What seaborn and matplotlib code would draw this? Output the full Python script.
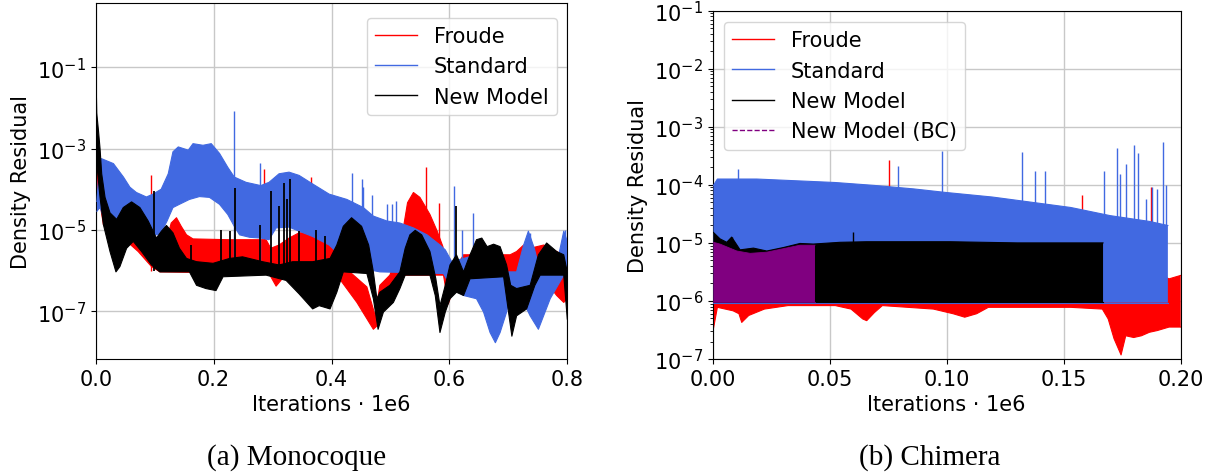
import numpy as np
import matplotlib
matplotlib.use("Agg")
import matplotlib.pyplot as plt
import seaborn as sns
from matplotlib.lines import Line2D
from matplotlib.ticker import NullLocator

# x: iterations in units of 1e6, y: log10(density residual)

# ---------------- (a) Monocoque ----------------
mono_std_up_x = [0.002, 0.007, 0.01, 0.03, 0.047, 0.058, 0.069, 0.086, 0.097, 0.111, 0.123, 0.131, 0.14,
                 0.157, 0.165, 0.182, 0.196, 0.21, 0.224, 0.235, 0.255, 0.28, 0.294, 0.311, 0.328, 0.345,
                 0.368, 0.396, 0.426, 0.454, 0.471, 0.494, 0.516, 0.539, 0.562, 0.584, 0.593, 0.604, 0.624,
                 0.646, 0.68, 0.714, 0.726, 0.734, 0.744, 0.754, 0.782, 0.794, 0.8]
mono_std_up_y = [-4.3, -3.25, -3.25, -3.37, -3.7, -3.95, -4.08, -4.19, -4.12, -4.0, -3.62, -3.08, -2.96,
                 -3.04, -2.88, -2.92, -2.88, -3.12, -3.46, -3.7, -3.83, -3.91, -3.83, -3.62, -3.58, -3.66,
                 -3.87, -4.12, -4.25, -4.45, -4.66, -4.78, -4.83, -4.95, -5.12, -5.37, -5.49, -5.78, -5.70,
                 -5.61, -6.03, -6.03, -5.37, -5.03, -5.45, -6.03, -5.86, -5.03, -5.28]
mono_std_lo_x = [0.002, 0.007, 0.019, 0.06, 0.109, 0.121, 0.131, 0.142, 0.159, 0.176, 0.193, 0.21, 0.224,
                 0.235, 0.244, 0.261, 0.28, 0.294, 0.306, 0.328, 0.345, 0.368, 0.396, 0.426, 0.454, 0.482,
                 0.59, 0.601, 0.624, 0.646, 0.658, 0.669, 0.678, 0.686, 0.697, 0.706, 0.723, 0.737, 0.751,
                 0.771, 0.794, 0.8]
mono_std_lo_y = [-4.54, -4.45, -4.87, -5.1, -5.12, -4.78, -4.45, -4.37, -4.25, -4.18, -4.20, -4.37, -4.62,
                 -4.91, -5.12, -5.18, -5.20, -5.24, -4.95, -4.93, -5.03, -5.16, -5.37, -5.78, -5.95, -6.03,
                 -6.07, -6.36, -6.61, -6.69, -7.02, -7.52, -7.77, -7.52, -7.02, -6.36, -6.69, -7.11, -7.44,
                 -6.69, -6.11, -6.03]

mono_fr_up_x = [0.002, 0.013, 0.03, 0.058, 0.086, 0.12, 0.128, 0.137, 0.145, 0.154, 0.165, 0.227, 0.289,
                0.297, 0.311, 0.328, 0.345, 0.368, 0.3975, 0.409, 0.431, 0.46, 0.474, 0.482, 0.499, 0.514,
                0.521, 0.529, 0.539, 0.55, 0.567, 0.579, 0.589, 0.596, 0.607, 0.624, 0.703, 0.714, 0.726,
                0.737, 0.76, 0.782, 0.8]
mono_fr_up_y = [-3.37, -4.2, -4.62, -4.9, -5.1, -5.28, -4.83, -4.70, -4.91, -5.12, -5.22, -5.24, -5.24,
                -5.45, -5.37, -5.20, -5.07, -5.07, -5.24, -5.45, -6.03, -6.4, -7.1, -6.36, -6.11, -5.53,
                -5.03, -4.33, -4.08, -4.20, -4.62, -5.02, -5.41, -6.20, -6.03, -5.61, -5.61, -5.53, -5.37,
                -5.45, -5.37, -5.53, -5.70]
mono_fr_lo_x = [0.002, 0.013, 0.03, 0.047, 0.058, 0.072, 0.086, 0.0946, 0.109, 0.294, 0.306, 0.314, 0.323,
                0.396, 0.409, 0.443, 0.471, 0.477, 0.488, 0.505, 0.516, 0.59, 0.598, 0.607, 0.624, 0.68,
                0.714, 0.726, 0.737, 0.76, 0.782, 0.794, 0.8]
mono_fr_lo_y = [-3.87, -4.87, -5.20, -5.37, -5.35, -5.53, -5.76, -5.90, -6.03, -6.07, -6.38, -6.24, -6.07,
                -6.03, -6.11, -6.78, -7.44, -7.36, -6.86, -6.44, -6.11, -6.11, -6.82, -6.44, -6.28, -6.20,
                -6.69, -6.86, -6.36, -6.20, -6.61, -6.78, -6.69]

mono_new_up_x = [0.0, 0.0005, 0.0017, 0.0045, 0.0073, 0.0101, 0.0158, 0.0242, 0.0355, 0.0467, 0.0608,
                 0.0749, 0.089, 0.103, 0.1115, 0.12, 0.131, 0.142, 0.154, 0.171, 0.199, 0.227, 0.249,
                 0.283, 0.311, 0.334, 0.368, 0.3975, 0.409, 0.42, 0.434, 0.451, 0.463, 0.471, 0.477,
                 0.482, 0.499, 0.516, 0.525, 0.533, 0.542, 0.553, 0.567, 0.577, 0.584, 0.593, 0.601,
                 0.612, 0.624, 0.635, 0.646, 0.655, 0.664, 0.675, 0.686, 0.697, 0.704, 0.714, 0.737,
                 0.751, 0.765, 0.782, 0.794, 0.8]
mono_new_up_y = [0.11, -1.2, -2.13, -2.54, -3.0, -3.62, -4.20, -4.58, -4.74, -4.45, -4.31, -4.45, -4.78,
                 -5.20, -5.03, -4.89, -5.07, -5.45, -5.70, -5.78, -5.82, -5.70, -5.66, -5.78, -5.86, -5.78,
                 -5.78, -5.70, -5.37, -4.91, -4.70, -4.91, -5.37, -6.03, -6.69, -6.53, -6.36, -6.03, -5.45,
                 -5.12, -5.01, -5.12, -5.53, -6.20, -6.86, -6.36, -5.86, -5.61, -6.03, -5.61, -5.24, -5.20,
                 -5.41, -5.35, -5.41, -5.86, -6.36, -6.44, -6.36, -5.61, -5.32, -5.53, -5.61, -6.03]
mono_new_lo_x = [0.0, 0.0017, 0.0073, 0.013, 0.0242, 0.0343, 0.041, 0.0524, 0.0636, 0.0777, 0.0946,
                 0.1087, 0.159, 0.171, 0.187, 0.204, 0.216, 0.289, 0.323, 0.345, 0.368, 0.379, 0.3975,
                 0.409, 0.42, 0.46, 0.471, 0.479, 0.488, 0.505, 0.516, 0.525, 0.567, 0.576, 0.584, 0.593,
                 0.601, 0.612, 0.624, 0.635, 0.692, 0.706, 0.714, 0.731, 0.745, 0.754, 0.794, 0.8]
mono_new_lo_y = [-2.0, -3.37, -4.2, -4.87, -5.53, -6.03, -5.9, -5.45, -5.28, -5.53, -5.86, -6.03, -6.03,
                 -6.36, -6.44, -6.49, -6.15, -6.11, -6.24, -6.57, -6.94, -6.86, -6.94, -6.53, -6.03, -6.07,
                 -6.69, -7.44, -7.02, -6.78, -6.44, -6.11, -6.11, -6.61, -7.52, -7.02, -6.69, -6.53, -6.61,
                 -6.20, -6.15, -7.61, -7.11, -6.94, -6.36, -6.11, -6.11, -7.19]

# isolated spikes (position, log10 peak)
mono_std_spk_x = [0.2342, 0.2787, 0.4343, 0.4524, 0.454, 0.4694, 0.4937, 0.5033, 0.5096, 0.6081, 0.621,
                  0.6397, 0.7359, 0.7965]
mono_std_spk_y = [-2.09, -3.36, -3.61, -3.75, -3.95, -4.14, -4.37, -4.37, -4.30, -3.91, -4.99, -4.58,
                  -5.07, -4.99]
mono_fr_spk_x = [0.0935, 0.2849, 0.366, 0.5605, 0.5831]
mono_fr_spk_y = [-3.66, -3.5, -3.71, -3.46, -4.35]
mono_new_spk_x = [0.0985, 0.161, 0.2128, 0.2286, 0.2365, 0.2787, 0.2978, 0.3113, 0.3192, 0.3237, 0.3299,
                  0.3451, 0.3733, 0.389, 0.612]
mono_new_spk_y = [-4.04, -5.37, -4.99, -5.03, -3.97, -4.87, -4.04, -4.41, -3.85, -4.24, -3.75, -5.03,
                  -4.99, -5.16, -4.41]

# ---------------- (b) Chimera ----------------
chim_std_up_x = [0.0003, 0.002, 0.0188, 0.0356, 0.0524, 0.0691, 0.0859, 0.0993, 0.1195, 0.1363, 0.153,
                 0.1698, 0.1866, 0.1945]
chim_std_up_y = [-4.01, -3.90, -3.90, -3.93, -3.96, -4.01, -4.07, -4.13, -4.21, -4.30, -4.39, -4.53,
                 -4.63, -4.70]
chim_std_lo_x = [0.0003, 0.1945]
chim_std_lo_y = [-6.03, -6.03]

chim_fr_up_x = [0.0003, 0.194, 0.195, 0.2]
chim_fr_up_y = [-5.6, -5.6, -5.62, -5.56]
chim_fr_lo_x = [0.0003, 0.002, 0.0087, 0.0112, 0.0124, 0.0154, 0.0221, 0.0322, 0.0524, 0.0591, 0.0641,
                0.0658, 0.0691, 0.0725, 0.0943, 0.1027, 0.1077, 0.1128, 0.1178, 0.153, 0.1665, 0.169,
                0.1715, 0.1745, 0.1765, 0.1799, 0.1832, 0.1866, 0.19, 0.195, 0.2]
chim_fr_lo_y = [-6.48, -6.11, -6.17, -6.22, -6.37, -6.25, -6.14, -6.08, -6.08, -6.14, -6.31, -6.34,
                -6.20, -6.08, -6.14, -6.22, -6.28, -6.22, -6.11, -6.11, -6.14, -6.31, -6.65, -6.93,
                -6.60, -6.63, -6.60, -6.54, -6.51, -6.45, -6.45]

chim_new_up_x = [0.0003, 0.0031, 0.006, 0.0081, 0.0117, 0.0174, 0.0231, 0.0302, 0.0373, 0.043, 0.0544,
                 0.0658, 0.08, 0.1014, 0.13, 0.1668]
chim_new_up_y = [-4.82, -4.93, -4.99, -4.90, -5.12, -5.09, -5.14, -5.08, -5.01, -5.02, -4.99, -4.98,
                 -4.98, -4.98, -5.0, -5.0]
chim_new_lo_x = [0.0003, 0.1668]
chim_new_lo_y = [-6.02, -6.02]

chim_bc_up_x = [0.0003, 0.0031, 0.0103, 0.016, 0.0231, 0.0302, 0.0373, 0.0437]
chim_bc_up_y = [-4.99, -5.02, -5.14, -5.18, -5.16, -5.10, -5.04, -5.04]
chim_bc_lo_x = [0.0003, 0.0437]
chim_bc_lo_y = [-6.02, -6.02]

chim_std_spk_x = [0.0107, 0.0792, 0.098, 0.1322, 0.1376, 0.142, 0.1671, 0.1728, 0.1742, 0.1765, 0.1799,
                  0.1819, 0.1853, 0.1879, 0.19, 0.1926, 0.1935]
chim_std_spk_y = [-3.72, -3.67, -3.41, -3.44, -3.76, -3.76, -3.76, -3.37, -3.81, -3.64, -3.31, -3.45,
                  -4.24, -4.04, -4.07, -3.27, -4.01]
chim_fr_spk_x = [0.0752, 0.158, 0.1874]
chim_fr_spk_y = [-3.57, -4.17, -4.04]
chim_new_spk_x = [0.0081, 0.0601]
chim_new_spk_y = [-4.90, -4.82]

mono_yticks = [1e-7, 1e-5, 1e-3, 1e-1]

RED = 'red'
BLUE = 'royalblue'
BLACK = 'black'
PURPLE = 'purple'

plt.rcParams['font.size'] = 15


def band(ax, xu, yu, xl, yl, color, z, lw=0.8, ls='-'):
    xs = np.r_[xu, xl[::-1]]
    ys = 10 ** np.r_[yu, yl[::-1]]
    ax.fill(xs, ys, color=color, lw=0, zorder=z)
    sns.lineplot(x=xu, y=10 ** np.array(yu), color=color, lw=lw, ls=ls, ax=ax,
                 zorder=z, estimator=None, legend=False)
    sns.lineplot(x=xl, y=10 ** np.array(yl), color=color, lw=lw, ls=ls, ax=ax,
                 zorder=z, estimator=None, legend=False)


def spikes(ax, xs, ys, base, color, z, lw=1.0):
    ax.vlines(xs, base, 10 ** np.array(ys), color=color, lw=lw, zorder=z)


fig = plt.figure(figsize=(12.15, 4.77), dpi=100)
ax1 = fig.add_axes([0.0788, 0.2453, 0.3881, 0.7463])
ax2 = fig.add_axes([0.5866, 0.2453, 0.3852, 0.7302])

for ax in (ax1, ax2):
    ax.set_yscale('log')
    ax.set_axisbelow(True)
    ax.grid(True, color='#c8c8c8', lw=1.0)

# left panel
band(ax1, mono_fr_up_x, mono_fr_up_y, mono_fr_lo_x, mono_fr_lo_y, RED, 2)
spikes(ax1, mono_fr_spk_x, mono_fr_spk_y, 1e-6, RED, 2)
band(ax1, mono_std_up_x, mono_std_up_y, mono_std_lo_x, mono_std_lo_y, BLUE, 3)
spikes(ax1, mono_std_spk_x, mono_std_spk_y, 1e-6, BLUE, 3)
band(ax1, mono_new_up_x, mono_new_up_y, mono_new_lo_x, mono_new_lo_y, BLACK, 4)
spikes(ax1, mono_new_spk_x, mono_new_spk_y, 1e-6, BLACK, 4, lw=1.3)

ax1.set_xlim(0, 0.8)
ax1.set_yticks(mono_yticks)
ax1.yaxis.set_minor_locator(NullLocator())
ax1.set_ylim(10 ** -8.17, 10 ** 0.575)
ax1.set_xlabel('Iterations · 1e6')
ax1.set_ylabel('Density Residual')

h1 = [Line2D([], [], color=RED, lw=1, label='Froude'),
      Line2D([], [], color=BLUE, lw=1, label='Standard'),
      Line2D([], [], color=BLACK, lw=1, label='New Model')]
ax1.legend(handles=h1, loc='upper right', bbox_to_anchor=(0.978, 0.959), borderaxespad=0)

# right panel
band(ax2, chim_fr_up_x, chim_fr_up_y, chim_fr_lo_x, chim_fr_lo_y, RED, 2)
spikes(ax2, chim_fr_spk_x, chim_fr_spk_y, 1e-5, RED, 2)
band(ax2, chim_std_up_x, chim_std_up_y, chim_std_lo_x, chim_std_lo_y, BLUE, 3)
spikes(ax2, chim_std_spk_x, chim_std_spk_y, 1e-5, BLUE, 3)
band(ax2, chim_new_up_x, chim_new_up_y, chim_new_lo_x, chim_new_lo_y, BLACK, 4)
spikes(ax2, chim_new_spk_x, chim_new_spk_y, 5e-6, BLACK, 4)
band(ax2, chim_bc_up_x, chim_bc_up_y, chim_bc_lo_x, chim_bc_lo_y, PURPLE, 5, lw=0.6)

ax2.set_xlim(0, 0.2)
ax2.set_ylim(1e-7, 1e-1)
ax2.set_xlabel('Iterations · 1e6')
ax2.set_ylabel('Density Residual')

h2 = h1 + [Line2D([], [], color=PURPLE, lw=1, ls='--', label='New Model (BC)')]
ax2.legend(handles=h2, loc='upper left', bbox_to_anchor=(0.024, 0.968), borderaxespad=0)

fig.text(297 / 1215, 0.04, '(a) Monocoque', family='Liberation Serif', size=21,
         ha='center', va='center')
fig.text(930 / 1215, 0.04, '(b) Chimera', family='Liberation Serif', size=21,
         ha='center', va='center')

fig.savefig('out.png', dpi=100)
